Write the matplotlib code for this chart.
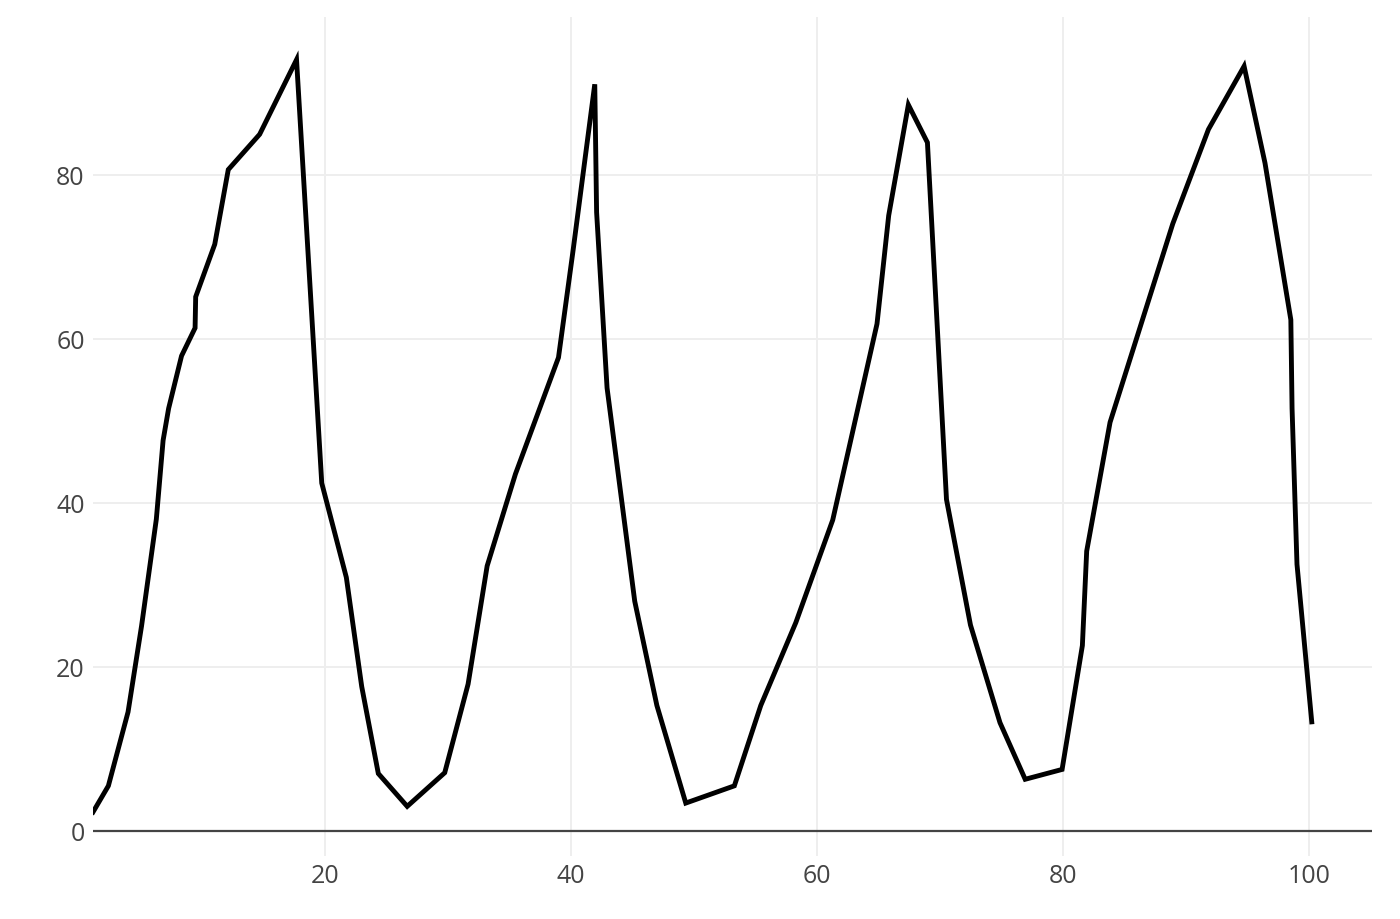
import matplotlib
matplotlib.use("Agg")
import matplotlib.pyplot as plt

x_vals = [1.15, 2.4, 4.0, 5.1, 6.3, 6.85, 7.3, 8.35, 9.45, 9.5, 11.05, 12.15, 14.7, 17.7,
          19.75, 21.75, 23.0, 24.35, 26.7, 29.75, 31.65, 33.2, 35.5, 39.0, 40.2, 41.95,
          42.1, 42.95, 45.2, 47.0, 49.35, 53.3, 55.45, 58.3, 61.3, 64.9, 65.85, 67.45,
          69.0, 70.55, 72.5, 74.9, 76.95, 79.95, 81.6, 81.95, 83.85, 88.95, 91.85, 94.75,
          96.45, 98.55, 98.65, 99.05, 100.25]
y_vals = [2.3, 5.5, 14.5, 25.0, 38.0, 47.6, 51.5, 57.9, 61.3, 65.1, 71.5, 80.6, 84.9, 94.0,
          42.4, 30.9, 17.6, 7.0, 3.0, 7.1, 17.9, 32.3, 43.5, 57.7, 70.9, 91.0,
          75.4, 54.0, 28.0, 15.3, 3.4, 5.5, 15.3, 25.4, 37.9, 61.8, 75.0, 88.5,
          83.9, 40.4, 25.1, 13.2, 6.3, 7.5, 22.6, 34.1, 49.8, 74.0, 85.5, 93.2,
          81.4, 62.3, 51.5, 32.5, 13.3]

x_ticks = [20, 40, 60, 80, 100]
y_ticks = [0, 20, 40, 60, 80]

plt.rcParams['font.family'] = ['Open Sans', 'DejaVu Sans']

fig = plt.figure(figsize=(14, 9.2), dpi=100)
ax = fig.add_axes([93/1400, 1 - 857/920, (1372 - 93)/1400, (857 - 18)/920])

ax.plot(x_vals, y_vals, color='black', linewidth=3.5, solid_joinstyle='miter', zorder=3)

ax.set_xlim(1.15, 105.15)
ax.set_ylim(-3.05, 99.2)
ax.set_xticks(x_ticks)
ax.set_yticks(y_ticks)
ax.grid(True, color='#eeeeee', linewidth=1.4, zorder=0)
ax.axhline(0, color='#444444', linewidth=1.6, zorder=2)
for s in ax.spines.values():
    s.set_visible(False)
ax.tick_params(axis='both', length=0, labelsize=18, labelcolor='#444444')
ax.tick_params(axis='x', pad=5)
ax.tick_params(axis='y', pad=6)
ax.set_axisbelow(True)

fig.savefig('out.png', dpi=100, facecolor='white')
